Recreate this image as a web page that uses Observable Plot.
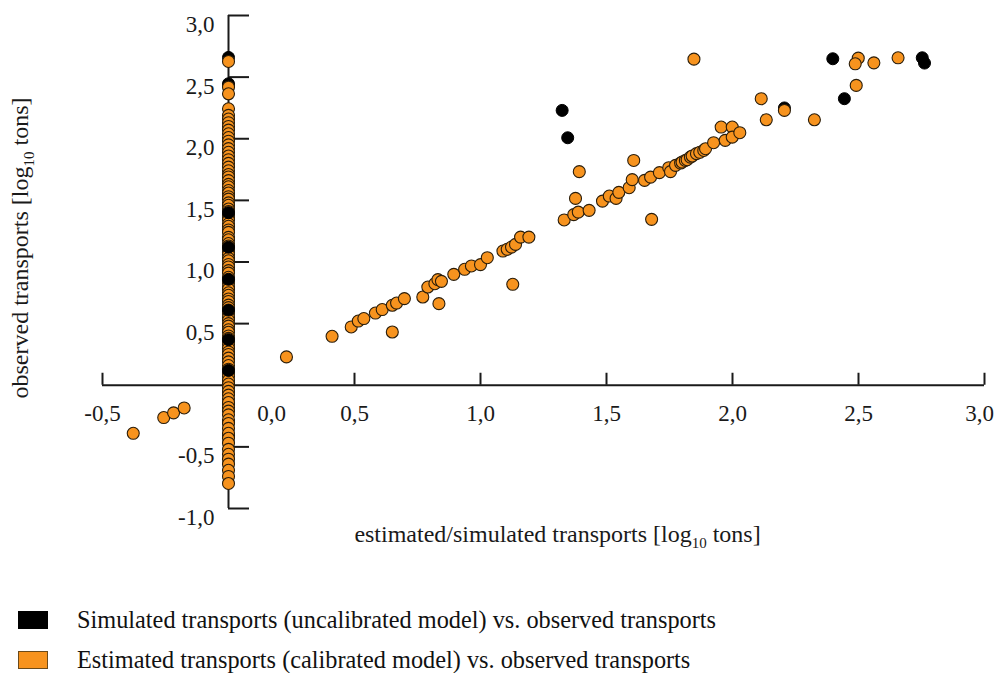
<!DOCTYPE html>
<html><head><meta charset="utf-8">
<script src="https://cdn.jsdelivr.net/npm/d3@7"></script>
<script src="https://cdn.jsdelivr.net/npm/@observablehq/plot@0.6"></script>
<style>
body{margin:0;background:#fff;font-family:"Liberation Serif",serif;}
#legend{padding-top:20px;}
.row{display:flex;align-items:center;height:40px;}
.sw{width:30px;height:18px;margin-left:18px;margin-right:29px;box-sizing:border-box;}
.row span{font-size:24.3px;color:#111;}
</style></head><body><div id="chart"></div><div id="legend"></div>
<script>
// ---- data (log10 tons) ----
// Simulated (uncalibrated) vs observed, off-axis points
const simX = [1.324, 1.346, 2.206, 2.398, 2.444, 2.753, 2.762];
const simY = [2.23, 2.008, 2.25, 2.649, 2.325, 2.657, 2.614];
// Simulated points lying on x = 0 (seen behind the orange ones)
const simColBackY = [2.66, 2.446, 2.43, 1.70, 1.64, 1.55, 1.45, 1.37, 1.28, 1.19, 1.11, 1.03, 0.94, 0.86, 0.78, 0.70, 0.62, 0.54, 0.46, 0.38, 0.30, 0.21, 0.10, 0.02, -0.06, -0.15, -0.30, -0.41];
// Simulated points lying on x = 0 (seen over the orange ones)
const simColFrontY = [1.40, 1.12, 0.86, 0.61, 0.37, 0.12];
// Estimated (calibrated) vs observed, off-axis points
const estX = [-0.378, -0.257, -0.218, -0.176, 0.230, 0.411, 0.487, 0.515, 0.537, 0.583, 0.610, 0.650, 0.650, 0.667, 0.698, 0.771, 0.791, 0.819, 0.835, 0.831, 0.845, 0.894, 0.937, 0.964, 1.0, 1.027, 1.089, 1.106, 1.128, 1.123, 1.139, 1.159, 1.192, 1.332, 1.392, 1.377, 1.370, 1.388, 1.431, 1.484, 1.511, 1.538, 1.549, 1.590, 1.602, 1.608, 1.651, 1.675, 1.679, 1.710, 1.747, 1.754, 1.774, 1.794, 1.80, 1.813, 1.82, 1.833, 1.84, 1.857, 1.87, 1.886, 1.893, 1.925, 1.955, 1.971, 1.999, 1.999, 2.029, 1.847, 2.114, 2.134, 2.206, 2.325, 2.499, 2.487, 2.561, 2.657, 2.491];
const estY = [-0.39, -0.262, -0.224, -0.184, 0.23, 0.397, 0.473, 0.521, 0.541, 0.586, 0.614, 0.432, 0.649, 0.667, 0.703, 0.716, 0.797, 0.824, 0.662, 0.857, 0.843, 0.900, 0.941, 0.968, 0.979, 1.035, 1.089, 1.103, 0.819, 1.121, 1.143, 1.202, 1.202, 1.341, 1.733, 1.516, 1.384, 1.405, 1.419, 1.494, 1.535, 1.516, 1.565, 1.603, 1.668, 1.824, 1.662, 1.689, 1.346, 1.725, 1.765, 1.733, 1.784, 1.803, 1.81, 1.824, 1.83, 1.851, 1.86, 1.879, 1.89, 1.905, 1.919, 1.968, 2.095, 1.987, 2.095, 2.013, 2.049, 2.646, 2.325, 2.154, 2.23, 2.154, 2.654, 2.608, 2.616, 2.657, 2.433];
// Estimated points lying on x = 0
const estColY = [2.627, 2.419, 2.365, 2.243, 2.19, 2.16, 2.13, 2.10, 2.07, 2.04, 2.01, 1.98, 1.95, 1.92, 1.89, 1.86, 1.83, 1.80, 1.77, 1.74, 1.71, 1.69, 1.66, 1.63, 1.61, 1.58, 1.56, 1.53, 1.51, 1.48, 1.46, 1.43, 1.41, 1.38, 1.36, 1.34, 1.31, 1.29, 1.26, 1.24, 1.20, 1.18, 1.15, 1.13, 1.11, 1.08, 1.06, 1.03, 1.01, 0.98, 0.96, 0.93, 0.91, 0.876, 0.85, 0.83, 0.80, 0.78, 0.75, 0.73, 0.70, 0.68, 0.65, 0.63, 0.60, 0.58, 0.55, 0.527, 0.50, 0.48, 0.45, 0.43, 0.40, 0.38, 0.35, 0.33, 0.30, 0.27, 0.25, 0.22, 0.19, 0.16, 0.13, 0.10, 0.07, 0.04, 0.01, -0.02, -0.05, -0.08, -0.11, -0.14, -0.18, -0.21, -0.24, -0.28, -0.31, -0.35, -0.39, -0.43, -0.47, -0.52, -0.56, -0.60, -0.64, -0.69, -0.74, -0.797];
// axis ticks and labels
const xTicks = [-0.5, 0.5, 1.0, 1.5, 2.0, 2.5, 3.0];
const xLabels = [-0.5, 0.5, 1.0, 1.5, 2.0, 2.5];
const xLastLabel = [3.0];
const xZeroLabel = [0.0];
const yTicks = [-1.0, -0.5, 0.5, 1.0, 1.5, 2.0, 2.5, 3.0];
const xTitle = "estimated/simulated transports [log10 tons]";
const yTitle = "observed transports [log10 tons]";
const legendLabels = ["Simulated transports (uncalibrated model) vs. observed transports", "Estimated transports (calibrated model) vs. observed transports"];
const colors = ["#000000", "#F7931E"];

// ---- build ----
const simBack = simX.map((x, i) => ({x, y: simY[i]})).concat(simColBackY.map(y => ({x: 0, y})));
const simFront = simColFrontY.map(y => ({x: 0, y}));
const estCol = estColY.map(y => ({x: 0, y}));
const estOff = estX.map((x, i) => ({x, y: estY[i]}));
const fmt = v => d3.format(".1f")(v).replace(".", ",").replace("\u2212", "-");
const ink = "#1a1a1a";
const W = 995, H = 580, ML = 102, MR = 11, MT = 15, MB = 72;
const pxX = (W - ML - MR) / 3.5, pxY = (H - MT - MB) / 4;
const blackDot = {x: "x", y: "y", r: 6, fill: colors[0], stroke: "#000", strokeWidth: 1};
const orangeDot = {x: "x", y: "y", r: 6, fill: colors[1], stroke: "#2a1d0a", strokeWidth: 1.1};

const chart = Plot.plot({
  width: W, height: H, marginLeft: ML, marginRight: MR, marginTop: MT, marginBottom: MB,
  x: {domain: [-0.5, 3], axis: null},
  y: {domain: [-1, 3], axis: null},
  style: {fontFamily: "Liberation Serif, serif", fontSize: "23px", color: ink, background: "#fff", overflow: "visible"},
  marks: [
    Plot.ruleY([0], {x1: -0.5, x2: 3, stroke: ink, strokeWidth: 2}),
    Plot.ruleX([0], {y1: -1, y2: 3, stroke: ink, strokeWidth: 2}),
    Plot.ruleY(yTicks, {y: d => d, x1: 0, x2: 21 / pxX, stroke: ink, strokeWidth: 2}),
    Plot.ruleX(xTicks, {x: d => d, y1: 0, y2: 12 / pxY, stroke: ink, strokeWidth: 2}),
    Plot.text(yTicks, {x: 0, y: d => d, text: fmt, textAnchor: "end", dx: -14, dy: 9, fill: ink, fontSize: 23}),
    Plot.text(xLabels, {x: d => d, y: 0, text: fmt, dy: 28, fill: ink, fontSize: 23}),
    Plot.text(xLastLabel, {x: d => d, y: 0, text: fmt, dx: -5, dy: 28, fill: ink, fontSize: 23}),
    Plot.text(xZeroLabel, {x: d => d, y: 0, text: fmt, dx: 43, dy: 28, fill: ink, fontSize: 23}),
    Plot.text([xTitle], {frameAnchor: "bottom", text: d => d, textAnchor: "middle", dx: 14, dy: 33, fill: ink, fontSize: 24}),
    Plot.text([yTitle], {frameAnchor: "left", text: d => d, textAnchor: "middle", rotate: -90, dx: -82, dy: -14, fill: ink, fontSize: 24}),
    Plot.dot(simBack, blackDot),
    Plot.dot(estCol, orangeDot),
    Plot.dot(simFront, blackDot),
    Plot.dot(estOff, orangeDot)
  ]
});
document.getElementById("chart").appendChild(chart);

// subscript "10" in log10
chart.querySelectorAll("text").forEach(t => {
  const s = t.textContent;
  const k = s.indexOf("log10");
  if (k < 0) return;
  t.textContent = "";
  const ns = "http://www.w3.org/2000/svg";
  const a = document.createElementNS(ns, "tspan"); a.textContent = s.slice(0, k + 3);
  const b = document.createElementNS(ns, "tspan"); b.textContent = "10"; b.setAttribute("font-size", 15); b.setAttribute("dy", 6);
  const c = document.createElementNS(ns, "tspan"); c.textContent = " " + s.slice(k + 5).trim(); c.setAttribute("dy", -6);
  t.append(a, b, c);
});

// legend
const lg = document.getElementById("legend");
legendLabels.forEach((l, i) => {
  const row = document.createElement("div"); row.className = "row";
  const sw = document.createElement("div"); sw.className = "sw"; sw.style.background = colors[i];
  sw.style.border = "1px solid " + (i ? "#6b4a1a" : "#000");
  const sp = document.createElement("span"); sp.textContent = l;
  row.append(sw, sp); lg.appendChild(row);
});
</script></body></html>
